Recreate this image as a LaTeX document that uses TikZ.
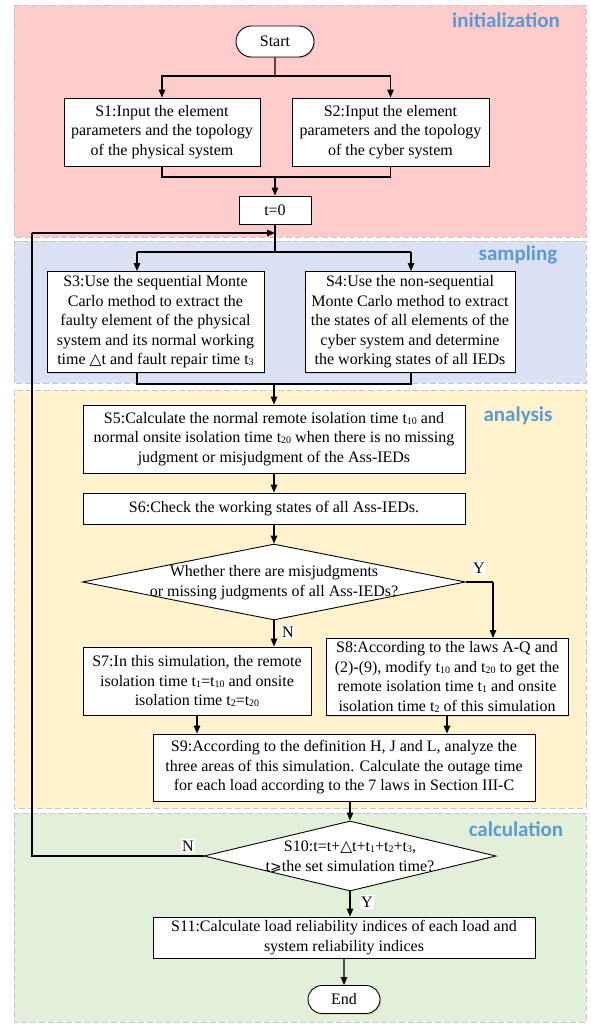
\documentclass[tikz,border=0pt]{standalone}
\usepackage{fontspec}
\setmainfont{Liberation Serif}
\newfontfamily\symfont{DejaVu Sans}
\newfontfamily\lblfont{Carlito}
\usetikzlibrary{arrows.meta,shapes.geometric,shapes.misc,shadows}

% small lowered index digits, as in t10, t20
\newcommand{\sbs}[1]{\raisebox{-1pt}{\fontsize{10}{10}\selectfont #1}}
% white triangle used for the time increment
\newcommand{\dlt}{{\symfont\fontsize{15.5}{15.5}\selectfont △}}
% slanted greater-or-equal sign
\newcommand{\geqs}{{\symfont\fontsize{14}{14}\selectfont ⩾}}

\definecolor{initbg}{RGB}{255,204,204}
\definecolor{sampbg}{RGB}{218,225,243}
\definecolor{analbg}{RGB}{255,242,204}
\definecolor{calcbg}{RGB}{226,239,217}
\definecolor{lblblue}{RGB}{91,155,213}

\begin{document}
\begin{tikzpicture}[x=1pt,y=-1pt,
  font=\fontsize{16}{19.5}\selectfont,
  panel/.style={draw=black!22, dashed, dash pattern=on 6pt off 3pt, line width=0.8pt},
  phase/.style={font=\lblfont\bfseries\fontsize{21}{21}\selectfont, text=lblblue, anchor=base, inner sep=0pt},
  box/.style={draw, line width=0.9pt, fill=white, align=center, inner sep=0pt,
    drop shadow={shadow xshift=1.2pt, shadow yshift=-1.2pt, opacity=0.25}},
  term/.style={box, rounded rectangle},
  decision/.style={draw, line width=0.9pt, fill=white, diamond, inner sep=0pt},
  tag/.style={fill=white, inner sep=1.5pt},
  line/.style={line width=1.3pt},
  flow/.style={line width=1.3pt, -{Triangle[length=8pt,width=6.5pt]}}
]
\useasboundingbox (0,0) rectangle (590,1025);

% phase panels
\fill[white] (0,0) rectangle (590,1025);
\draw[panel, fill=initbg] (14,5) rectangle (586,237);
\draw[panel, fill=sampbg] (14,241) rectangle (586,383);
\draw[panel, fill=analbg] (14,390) rectangle (586,808);
\draw[panel, fill=calcbg] (14,813) rectangle (586,1022);

\node[phase] (ph1) at (506,28) {initialization};
\node[phase] (ph2) at (518,260) {sampling};
\node[phase] (ph3) at (518,421) {analysis};
\node[phase] (ph4) at (516,836) {calculation};

% steps
\node[term, minimum width=78pt, minimum height=31pt] (start) at (275,41.5) {Start};
\node[box, minimum width=196pt, minimum height=68pt] (s1) at (162,132)
  {S1:Input the element\\parameters and the topology\\of the physical system};
\node[box, minimum width=197pt, minimum height=68pt] (s2) at (390.5,132)
  {S2:Input the element\\parameters and the topology\\of the cyber system};
\node[box, minimum width=72pt, minimum height=28pt] (t0) at (275,210) {t=0};
\node[box, minimum width=217pt, minimum height=101pt] (s3) at (155.5,322)
  {S3:Use the sequential Monte\\Carlo method to extract the\\faulty element of the physical\\system and its normal working\\time \dlt t and fault repair time t\sbs{3}};
\node[box, minimum width=210pt, minimum height=101pt] (s4) at (410,322)
  {S4:Use the non-sequential\\Monte Carlo method to extract\\the states of all elements of the\\cyber system and determine\\the working states of all IEDs};
\node[box, minimum width=382pt, minimum height=68pt] (s5) at (274,439)
  {S5:Calculate the normal remote isolation time t\sbs{10} and\\normal onsite isolation time t\sbs{20} when there is no missing\\judgment or misjudgment of the Ass-IEDs};
\node[box, minimum width=382pt, minimum height=31pt] (s6) at (274,508.5)
  {S6:Check the working states of all Ass-IEDs.};
\node[decision, minimum width=383pt, minimum height=76pt, aspect=5] (d1) at (274,582) {};
\node[align=center, inner sep=0pt] (d1t) at (274,582.5)
  {Whether there are misjudgments\\or missing judgments of all Ass-IEDs?};
\node[box, minimum width=228pt, minimum height=68pt] (s7) at (197,681)
  {S7:In this simulation, the remote\\isolation time t\sbs{1}=t\sbs{10} and onsite\\isolation time t\sbs{2}=t\sbs{20}};
\node[box, minimum width=242pt, minimum height=77pt] (s8) at (447,677)
  {S8:According to the laws A-Q and\\(2)-(9), modify t\sbs{10} and t\sbs{20} to get the\\remote isolation time t\sbs{1} and onsite\\isolation time t\sbs{2} of this simulation};
\node[box, minimum width=382pt, minimum height=67pt] (s9) at (344,767.5)
  {S9:According to the definition H, J and L, analyze the\\three areas of this simulation. Calculate the outage time\\for each load according to the 7 laws in Section III-C};
\node[decision, minimum width=292pt, minimum height=70pt, aspect=4.2] (d2) at (350,856) {};
\node[align=center, inner sep=0pt] (d2t) at (350,857)
  {S10:t=t+\dlt t+t\sbs{1}+t\sbs{2}+t\sbs{3},\\t\geqs the set simulation time?};
\node[box, minimum width=382pt, minimum height=41pt] (s11) at (344,937.5)
  {S11:Calculate load reliability indices of each load and\\system reliability indices};
\node[term, minimum width=72pt, minimum height=28pt] (end) at (344,999.5) {End};

% branch and merge points
\coordinate (sp1) at (275,76);
\coordinate (mg1) at (275,177);
\coordinate (sp2) at (275,252);
\coordinate (lp) at (275,233);
\coordinate (mg2) at (274,384);
\coordinate (s3in) at (137,252);
\coordinate (s4in) at (411,252);
\coordinate (s3out) at (137,384);
\coordinate (s4out) at (411,384);
\coordinate (yturn) at (493,582);
\coordinate (s7in) at (274,600);
\coordinate (s7out) at (197,700);
\coordinate (s8out) at (447,700);
\coordinate (s9out) at (350,790);
\coordinate (s11out) at (344,950);
\coordinate (nturn) at (32,856);
\coordinate (nup) at (32,233);

% connectors
\draw[line] (start) -- (sp1);
\draw[flow] (sp1) -| (s1);
\draw[flow] (sp1) -| (s2);
\draw[line] (s1) |- (mg1);
\draw[line] (s2) |- (mg1);
\draw[flow] (mg1) -- (t0);
\draw[line] (t0) -- (sp2);
\draw[line] (s3in) -- (s4in);
\draw[flow] (s3in) -- (s3in |- s3.north);
\draw[flow] (s4in) -- (s4in |- s4.north);
\draw[line] (s3out |- s3.south) -- (s3out) -- (s4out) -- (s4out |- s4.south);
\draw[flow] (mg2) -- (s5);
\draw[flow] (s5) -- (s6);
\draw[flow] (s6) -- (d1);
\draw[line] (d1.east) -- (yturn);
\draw[flow] (yturn) -- (yturn |- s8.north);
\draw[flow] (d1.south) -- (s7in |- s7.north);
\draw[flow] (s7out |- s7.south) -- (s7out |- s9.north);
\draw[flow] (s8out |- s8.south) -- (s8out |- s9.north);
\draw[flow] (s9out |- s9.south) -- (d2.north);
\draw[flow] (d2.south) -- (s9out |- s11.north);
\draw[flow] (s11out |- s11.south) -- (end);
\draw[line] (d2.west) -- (nturn) -- (nup);
\draw[flow] (nup) -- (lp);

% branch labels
\node[tag] (ly1) at (479,568) {Y};
\node[tag] (ln1) at (288,632) {N};
\node[tag] (ln2) at (188,846) {N};
\node[tag] (ly2) at (367,902) {Y};
\end{tikzpicture}
\end{document}
